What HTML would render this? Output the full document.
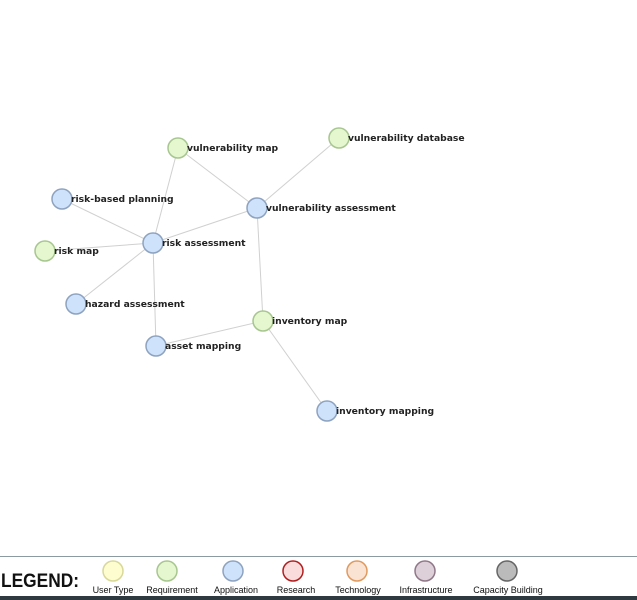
<!DOCTYPE html>
<html><head><meta charset="utf-8"><style>
html,body{margin:0;padding:0;background:#fff;width:637px;height:600px;overflow:hidden}
</style></head><body>
<svg width="637" height="600" xmlns="http://www.w3.org/2000/svg">
<g stroke="#d0d0d0" stroke-width="1">
<line x1="178" y1="148" x2="153" y2="243"/>
<line x1="178" y1="148" x2="257" y2="208"/>
<line x1="339" y1="138" x2="257" y2="208"/>
<line x1="62" y1="199" x2="153" y2="243"/>
<line x1="257" y1="208" x2="153" y2="243"/>
<line x1="45" y1="251" x2="153" y2="243"/>
<line x1="76" y1="304" x2="153" y2="243"/>
<line x1="156" y1="346" x2="153" y2="243"/>
<line x1="257" y1="208" x2="263" y2="321"/>
<line x1="156" y1="346" x2="263" y2="321"/>
<line x1="263" y1="321" x2="327" y2="411"/>
</g>
<g stroke-width="1.5">
<g fill="#e4f7cf" stroke="#a8c690">
<circle cx="178" cy="148" r="10"/><circle cx="339" cy="138" r="10"/><circle cx="45" cy="251" r="10"/><circle cx="263" cy="321" r="10"/>
</g>
<g fill="#cfe2fb" stroke="#8ea3bf">
<circle cx="62" cy="199" r="10"/><circle cx="257" cy="208" r="10"/><circle cx="153" cy="243" r="10"/><circle cx="76" cy="304" r="10"/><circle cx="156" cy="346" r="10"/><circle cx="327" cy="411" r="10"/>
</g>
</g>
<g font-family="DejaVu Sans, sans-serif" font-weight="bold" font-size="9.2" fill="#222">
<text x="187" y="151">vulnerability map</text>
<text x="348" y="141">vulnerability database</text>
<text x="71" y="202">risk-based planning</text>
<text x="266" y="211">vulnerability assessment</text>
<text x="162" y="246">risk assessment</text>
<text x="54" y="254">risk map</text>
<text x="85" y="307">hazard assessment</text>
<text x="272" y="324">inventory map</text>
<text x="165" y="349">asset mapping</text>
<text x="336" y="414">inventory mapping</text>
</g>
<line x1="0" y1="556.5" x2="637" y2="556.5" stroke="#8a9aa0" stroke-width="1"/>
<rect x="0" y="596" width="637" height="4" fill="#2f3a40"/>
<text x="1" y="587" font-family="Liberation Sans, sans-serif" font-weight="bold" font-size="19" fill="#111" textLength="78" lengthAdjust="spacingAndGlyphs">LEGEND:</text>
<g stroke-width="1.5">
<circle cx="113" cy="571" r="10" fill="#fdfdd0" stroke="#d8d89a"/>
<circle cx="167" cy="571" r="10" fill="#e4f7cf" stroke="#a8c690"/>
<circle cx="233" cy="571" r="10" fill="#cfe2fb" stroke="#8ea3bf"/>
<circle cx="293" cy="571" r="10" fill="#fadcdc" stroke="#b02020"/>
<circle cx="357" cy="571" r="10" fill="#fae3d3" stroke="#e09a60"/>
<circle cx="425" cy="571" r="10" fill="#ddd0d8" stroke="#907888"/>
<circle cx="507" cy="571" r="10" fill="#bbbbbb" stroke="#666"/>
</g>
<g font-family="Liberation Sans, sans-serif" font-size="9" fill="#111" text-anchor="middle">
<text x="113" y="593">User Type</text>
<text x="172" y="593">Requirement</text>
<text x="236" y="593">Application</text>
<text x="296" y="593">Research</text>
<text x="358" y="593">Technology</text>
<text x="426" y="593">Infrastructure</text>
<text x="508" y="593">Capacity Building</text>
</g>
</svg>
</body></html>
